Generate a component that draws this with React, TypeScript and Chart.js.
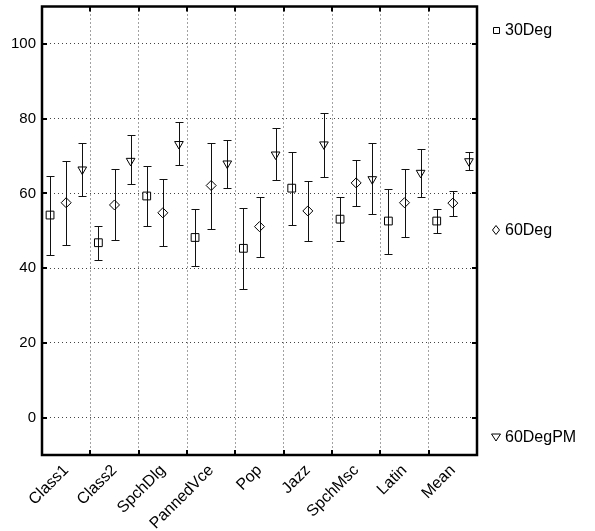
import React, { useEffect, useRef } from 'react';
import { Chart, registerables } from 'chart.js';

Chart.register(...registerables);

// ---- data ----
const categories = ['Class1', 'Class2', 'SpchDlg', 'PannedVce', 'Pop', 'Jazz', 'SpchMsc', 'Latin', 'Mean'];
const seriesNames = ['30Deg', '60Deg', '60DegPM'];

const mean30 = [54.2, 46.8, 59.3, 48.2, 45.3, 61.4, 53.1, 52.6, 52.6];
const low30 = [43.6, 42.1, 51.2, 40.6, 34.5, 51.6, 47.3, 43.9, 49.4];
const high30 = [64.7, 51.3, 67.2, 55.9, 56.0, 71.0, 58.9, 61.2, 55.7];

const mean60 = [57.5, 56.9, 54.8, 62.1, 51.1, 55.3, 62.8, 57.5, 57.4];
const low60 = [46.1, 47.6, 46.0, 50.6, 42.9, 47.3, 56.6, 48.4, 54.0];
const high60 = [68.7, 66.5, 63.8, 73.6, 59.1, 63.3, 68.9, 66.6, 60.6];

const mean60PM = [66.4, 68.7, 73.2, 68.0, 70.4, 73.1, 63.8, 65.5, 68.6];
const low60PM = [59.3, 62.4, 67.6, 61.5, 63.5, 64.3, 54.5, 59.1, 66.2];
const high60PM = [73.6, 75.6, 79.1, 74.3, 77.6, 81.5, 73.4, 71.9, 71.2];

const yTicks = [0, 20, 40, 60, 80, 100];
const yMin = -10;
const yMax = 110;

// ---- layout / style ----
const groupOffsets = [-1 / 3, 0, 1 / 3];
const FONT = '"Liberation Sans", Arial, Helvetica, sans-serif';

const series = [
  { name: seriesNames[0], mean: mean30, low: low30, high: high30, style: 'rect', radius: 5.5, rotation: 0 },
  { name: seriesNames[1], mean: mean60, low: low60, high: high60, style: 'rectRot', radius: 5, rotation: 0 },
  { name: seriesNames[2], mean: mean60PM, low: low60PM, high: high60PM, style: 'triangle', radius: 5, rotation: 180 },
];

const errorBarPlugin = {
  id: 'errorBars',
  beforeDatasetsDraw(chart: any) {
    const { ctx, scales } = chart;
    const xs = scales.x;
    const ys = scales.y;
    ctx.save();
    ctx.strokeStyle = '#111';
    ctx.lineWidth = 1;
    series.forEach((s, si) => {
      s.mean.forEach((_, i) => {
        const px = Math.round(xs.getPixelForValue(i + 1 + groupOffsets[si])) + 0.5;
        const yl = Math.round(ys.getPixelForValue(s.low[i])) + 0.5;
        const yh = Math.round(ys.getPixelForValue(s.high[i])) + 0.5;
        ctx.beginPath();
        ctx.moveTo(px, yl);
        ctx.lineTo(px, yh);
        ctx.moveTo(px - 4, yl);
        ctx.lineTo(px + 4, yl);
        ctx.moveTo(px - 4, yh);
        ctx.lineTo(px + 4, yh);
        ctx.stroke();
      });
    });
    ctx.restore();
  },
};

const boxPlugin = {
  id: 'matlabBox',
  afterDraw(chart: any) {
    const { ctx, chartArea, scales } = chart;
    const { left, right, top, bottom } = chartArea;
    ctx.save();
    ctx.strokeStyle = '#000';
    // inward ticks
    ctx.lineWidth = 2;
    ctx.beginPath();
    yTicks.forEach((v) => {
      const y = Math.round(scales.y.getPixelForValue(v));
      ctx.moveTo(left, y);
      ctx.lineTo(left + 5, y);
      ctx.moveTo(right, y);
      ctx.lineTo(right - 5, y);
    });
    for (let k = 1; k < categories.length; k++) {
      const x = Math.round(scales.x.getPixelForValue(k + 0.5));
      ctx.moveTo(x, bottom);
      ctx.lineTo(x, bottom - 5);
      ctx.moveTo(x, top);
      ctx.lineTo(x, top + 5);
    }
    ctx.stroke();
    // box
    ctx.lineWidth = 2.5;
    ctx.strokeRect(left, top, right - left, bottom - top);

    // legend
    const legendY = [30, 230, 437];
    const symX = 496;
    ctx.lineWidth = 1;
    ctx.fillStyle = '#000';
    ctx.font = `16px ${FONT}`;
    ctx.textBaseline = 'middle';
    ctx.textAlign = 'left';
    series.forEach((s, si) => {
      const y = legendY[si];
      ctx.beginPath();
      if (s.style === 'rect') {
        ctx.rect(symX - 3 + 0.5, y - 3 + 0.5, 6, 6);
      } else if (s.style === 'rectRot') {
        ctx.moveTo(symX, y - 4.5);
        ctx.lineTo(symX + 3.5, y);
        ctx.lineTo(symX, y + 4.5);
        ctx.lineTo(symX - 3.5, y);
        ctx.closePath();
      } else {
        ctx.moveTo(symX - 4.5, y - 3);
        ctx.lineTo(symX + 4.5, y - 3);
        ctx.lineTo(symX, y + 4);
        ctx.closePath();
      }
      ctx.stroke();
      ctx.fillText(s.name, symX + 9, y + 1);
    });
    ctx.restore();
  },
};

export default function App() {
  const ref = useRef<HTMLCanvasElement | null>(null);

  useEffect(() => {
    if (!ref.current) return;
    const chart = new Chart(ref.current, {
      type: 'scatter',
      data: {
        datasets: series.map((s, si) => ({
          label: s.name,
          data: s.mean.map((v, i) => ({ x: i + 1 + groupOffsets[si], y: v })),
          pointStyle: s.style as any,
          pointRadius: s.radius,
          pointHoverRadius: s.radius,
          pointRotation: s.rotation,
          pointBorderWidth: 1,
          borderColor: '#000',
          pointBorderColor: '#000',
          backgroundColor: 'rgba(0,0,0,0)',
          pointBackgroundColor: 'rgba(0,0,0,0)',
          showLine: false,
        })),
      },
      options: {
        animation: false,
        responsive: false,
        events: [],
        layout: { padding: { top: 5, right: 118, bottom: 0, left: 0 } },
        plugins: { legend: { display: false }, tooltip: { enabled: false } },
        scales: {
          x: {
            type: 'linear',
            min: 0.5,
            max: 9.5,
            afterBuildTicks: (scale: any) => {
              scale.ticks = categories.map((_, i) => ({ value: i + 1 }));
            },
            afterFit: (scale: any) => {
              scale.height = 76;
              scale.paddingLeft = 0;
              scale.paddingRight = 0;
            },
            grid: { offset: true, color: '#444', lineWidth: 1, drawTicks: false },
            border: { display: false, dash: [1, 3] },
            ticks: {
              autoSkip: false,
              minRotation: 45,
              maxRotation: 45,
              padding: 6,
              labelOffset: 0,
              color: '#000',
              font: { family: FONT, size: 16 },
              callback: (v: any) => categories[Math.round(Number(v)) - 1] ?? '',
            },
          },
          y: {
            type: 'linear',
            min: yMin,
            max: yMax,
            afterBuildTicks: (scale: any) => {
              scale.ticks = yTicks.map((v) => ({ value: v }));
            },
            afterFit: (scale: any) => {
              scale.width = 42;
              scale.paddingTop = 0;
              scale.paddingBottom = 0;
            },
            grid: { color: '#444', lineWidth: 1, drawTicks: false },
            border: { display: false, dash: [1, 3] },
            ticks: {
              padding: 6,
              color: '#000',
              font: { family: FONT, size: 15 },
              callback: (v: any) => String(v),
            },
          },
        },
      },
      plugins: [errorBarPlugin, boxPlugin],
    });
    return () => chart.destroy();
  }, []);

  return (
    <div style={{ position: 'absolute', left: 0, top: 0, width: 595, height: 531, background: '#fff' }}>
      <canvas ref={ref} width={595} height={531} style={{ display: 'block', width: 595, height: 531 }} />
    </div>
  );
}
